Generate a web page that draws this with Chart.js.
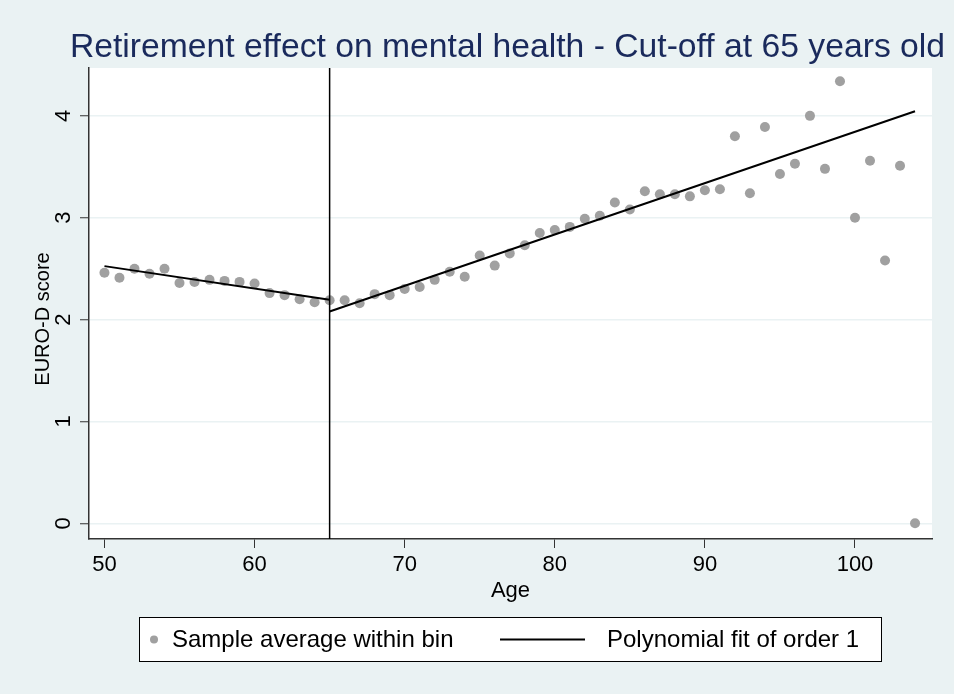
<!DOCTYPE html>
<html>
<head>
<meta charset="utf-8">
<script src="https://cdn.jsdelivr.net/npm/chart.js@4.4.1/dist/chart.umd.min.js"></script>
<style>
  html, body { margin: 0; padding: 0; background: #eaf2f3; }
  #wrap { width: 954px; height: 694px; }
</style>
</head>
<body>
<div id="wrap"><canvas id="c" width="954" height="694"></canvas></div>
<script>
// ---- data ----
const titleText = 'Retirement effect on mental health - Cut-off at 65 years old';
const xTitle = 'Age';
const yTitle = 'EURO-D score';
const legendLabels = ['Sample average within bin', 'Polynomial fit of order 1'];

const ages = [50,51,52,53,54,55,56,57,58,59,60,61,62,63,64,65,66,67,68,69,70,71,72,73,74,75,76,77,78,79,80,81,82,83,84,85,86,87,88,89,90,91,92,93,94,95,96,97,98,99,100,101,102,103,104];
const scores = [2.46,2.41,2.50,2.45,2.50,2.36,2.37,2.39,2.38,2.37,2.355,2.26,2.24,2.20,2.17,2.19,2.19,2.16,2.25,2.24,2.30,2.32,2.39,2.47,2.42,2.63,2.53,2.65,2.73,2.85,2.88,2.91,2.99,3.02,3.15,3.08,3.26,3.23,3.23,3.21,3.27,3.28,3.80,3.24,3.89,3.43,3.53,4.00,3.48,4.34,3.00,3.56,2.58,3.51,0.00];

const leftFitAges = [50, 65];
const leftFitValues = [2.525, 2.195];
const rightFitAges = [65, 104];
const rightFitValues = [2.08, 4.046];

const cutoffAge = 65;

const xTicks = [50, 60, 70, 80, 90, 100];
const yTicks = [0, 1, 2, 3, 4];

const xMin = 48.97, xMax = 105.13;
const yMin = -0.154, yMax = 4.47;

// ---- build ----
const FONT = "'Liberation Sans', Arial, Helvetica, sans-serif";
const zip = (xs, ys) => xs.map((x, i) => ({ x: x, y: ys[i] }));

const bgPlugin = {
  id: 'bg',
  beforeDraw(chart) {
    const { ctx, chartArea: a } = chart;
    ctx.save();
    ctx.fillStyle = '#eaf2f3';
    ctx.fillRect(0, 0, chart.width, chart.height);
    ctx.fillStyle = '#ffffff';
    ctx.fillRect(a.left, a.top, a.right - a.left, a.bottom - a.top);
    ctx.restore();
  },
  afterDraw(chart) {
    const { ctx, chartArea: a } = chart;
    ctx.save();
    // title
    ctx.fillStyle = '#1a2a5c';
    ctx.font = '33.7px ' + FONT;
    ctx.textAlign = 'center';
    ctx.textBaseline = 'alphabetic';
    ctx.fillText(titleText, (a.left + a.right) / 2 - 3, 57);

    // y title
    ctx.save();
    ctx.translate(43, 319);
    ctx.rotate(-Math.PI / 2);
    ctx.fillStyle = '#000';
    ctx.font = '20px ' + FONT;
    ctx.textAlign = 'center';
    ctx.textBaseline = 'middle';
    ctx.fillText(yTitle, 0, 0);
    ctx.restore();

    // legend
    ctx.fillStyle = '#ffffff';
    ctx.fillRect(139.5, 617.5, 742, 44);
    ctx.strokeStyle = '#000';
    ctx.lineWidth = 1;
    ctx.strokeRect(139.5, 617.5, 742, 44);
    ctx.fillStyle = '#a0a0a0';
    ctx.beginPath();
    ctx.arc(154, 639.5, 4, 0, Math.PI * 2);
    ctx.fill();
    ctx.fillStyle = '#000';
    ctx.font = '24px ' + FONT;
    ctx.textAlign = 'left';
    ctx.textBaseline = 'middle';
    ctx.fillText(legendLabels[0], 172, 640);
    ctx.beginPath();
    ctx.moveTo(500, 639.5);
    ctx.lineTo(585, 639.5);
    ctx.lineWidth = 2;
    ctx.stroke();
    ctx.fillText(legendLabels[1], 607, 640);
    ctx.restore();
  }
};

new Chart(document.getElementById('c'), {
  type: 'scatter',
  data: {
    datasets: [
      {
        label: legendLabels[0],
        data: zip(ages, scores),
        pointRadius: 5,
        pointHoverRadius: 5,
        pointBackgroundColor: '#a0a0a0',
        pointBorderWidth: 0,
        showLine: false,
        order: 2
      },
      {
        label: legendLabels[1],
        data: zip(leftFitAges, leftFitValues),
        showLine: true,
        pointRadius: 0,
        borderColor: '#000',
        borderWidth: 2,
        order: 1
      },
      {
        label: legendLabels[1] + ' (right)',
        data: zip(rightFitAges, rightFitValues),
        showLine: true,
        pointRadius: 0,
        borderColor: '#000',
        borderWidth: 2,
        order: 1
      },
      {
        label: 'cutoff',
        data: [{ x: cutoffAge, y: yMin }, { x: cutoffAge, y: yMax }],
        showLine: true,
        pointRadius: 0,
        borderColor: '#000',
        borderWidth: 1.5,
        order: 0
      }
    ]
  },
  options: {
    responsive: false,
    animation: false,
    events: [],
    layout: { padding: { top: 68, left: 0, right: 22, bottom: 85 } },
    plugins: {
      legend: { display: false },
      title: { display: false },
      tooltip: { enabled: false }
    },
    scales: {
      x: {
        type: 'linear',
        min: xMin,
        max: xMax,
        afterBuildTicks(s) { s.ticks = xTicks.map(v => ({ value: v })); },
        afterFit(s) { s.height = 70; },
        grid: { display: true, drawOnChartArea: false, tickLength: 9, tickColor: '#333', tickWidth: 1 },
        border: { display: true, color: '#333', width: 1.5 },
        ticks: { color: '#000', font: { family: FONT, size: 22 }, padding: 4, maxRotation: 0, autoSkip: false },
        title: { display: true, text: xTitle, color: '#000', font: { family: FONT, size: 22 }, padding: { top: 0, bottom: 5 } }
      },
      y: {
        type: 'linear',
        min: yMin,
        max: yMax,
        afterBuildTicks(s) { s.ticks = yTicks.map(v => ({ value: v })); },
        afterFit(s) { s.width = 89; },
        grid: { display: true, drawOnChartArea: true, color: '#eaf2f3', lineWidth: 1.5, tickLength: 9, tickColor: '#333', tickWidth: 1 },
        border: { display: true, color: '#333', width: 1.5 },
        ticks: { color: '#000', font: { family: FONT, size: 22 }, padding: 10, minRotation: 90, maxRotation: 90, crossAlign: 'center' },
        title: { display: false }
      }
    }
  },
  plugins: [bgPlugin]
});
</script>
</body>
</html>
